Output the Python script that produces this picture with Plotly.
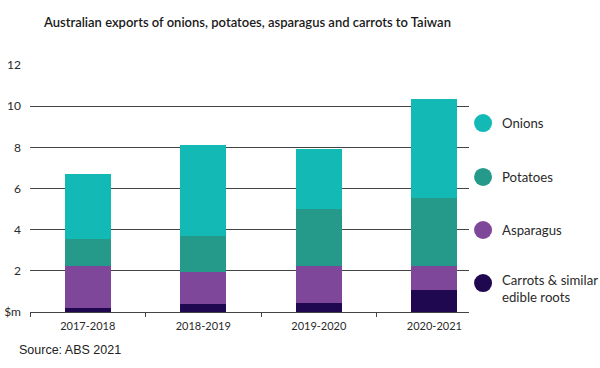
import plotly.graph_objects as go

years = ["2017-2018", "2018-2019", "2019-2020", "2020-2021"]
carrots = [0.20, 0.39, 0.46, 1.05]
asparagus = [2.03, 1.57, 1.76, 1.20]
potatoes = [1.32, 1.73, 2.78, 3.30]
onions = [3.17, 4.42, 2.94, 4.80]

series_names = ["Carrots & similar<br>edible roots", "Asparagus", "Potatoes", "Onions"]
series_values = [carrots, asparagus, potatoes, onions]
series_colors = ["#1f0850", "#7f479a", "#259a8b", "#13b9b4"]

y_tickvals = [0, 2, 4, 6, 8, 10, 12]
y_ticktext = ["$m", "2", "4", "6", "8", "10", "12"]

fig = go.Figure()
for name, vals, col in zip(series_names, series_values, series_colors):
    fig.add_trace(go.Bar(x=years, y=vals, name=name, marker_color=col,
                         marker_line_width=0, width=0.4, showlegend=False))

# custom legend (circles + labels)
legend_y_circle = {"Onions": 0.765, "Potatoes": 0.547, "Asparagus": 0.332,
                   "Carrots & similar<br>edible roots": 0.117}
legend_y_text = {"Onions": 0.765, "Potatoes": 0.547, "Asparagus": 0.332,
                 "Carrots & similar<br>edible roots": 0.095}
shapes = []
annotations = []
for name, col in zip(series_names, series_colors):
    yc = legend_y_circle[name]
    shapes.append(dict(type="circle", xref="paper", yref="paper",
                       xsizemode="pixel", ysizemode="pixel",
                       xanchor=1.032, yanchor=yc, x0=-9, x1=9, y0=-9, y1=9,
                       fillcolor=col, line_width=0))
    annotations.append(dict(text=name, xref="paper", yref="paper",
                            x=1.071, y=legend_y_text[name], xanchor="left",
                            yanchor="middle", showarrow=False, align="left",
                            font=dict(family="Lato", size=13.2, color="#2a2a2a")))

annotations.append(dict(text="Source: ABS 2021", xref="paper", yref="paper",
                        x=-0.029, y=-0.154, xanchor="left", yanchor="middle",
                        showarrow=False,
                        font=dict(family="Liberation Sans", size=12.5, color="#222")))

fig.update_layout(
    width=600, height=368,
    margin=dict(l=30, r=131, t=65, b=56, autoexpand=False),
    barmode="stack",
    plot_bgcolor="white", paper_bgcolor="white",
    title=dict(text="Australian exports of onions, potatoes, asparagus and carrots to Taiwan",
               x=44/600, xanchor="left", xref="container",
               y=1-22/368, yanchor="middle", yref="container",
               font=dict(family="Lato", size=13, color="#1a1a1a", weight=600)),
    shapes=shapes,
    annotations=annotations,
)
fig.update_xaxes(range=[-0.5, 3.3], showgrid=False, showline=True,
                 linecolor="#444", linewidth=1, ticks="outside", ticklen=4,
                 tickcolor="#444", tickson="boundaries", automargin=False,
                 ticklabelstandoff=4,
                 tickfont=dict(family="Lato", size=11, color="#2a2a2a"))
fig.update_yaxes(range=[0, 12], tickvals=y_tickvals, ticktext=y_ticktext,
                 showgrid=True, gridcolor="#444", gridwidth=1, zeroline=False,
                 ticks="", ticklabelstandoff=8, automargin=False,
                 tickfont=dict(family="Lato", size=12, color="#2a2a2a"))

fig.write_html("out.html", config={"displayModeBar": False},
               post_script="document.body.style.margin='0';document.body.style.overflow='hidden';")
